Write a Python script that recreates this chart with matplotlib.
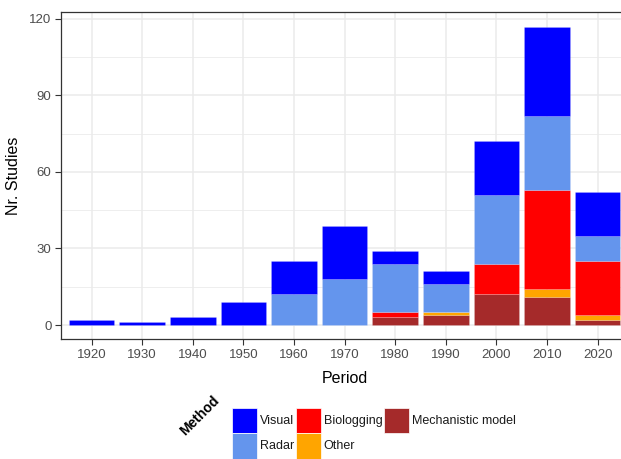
import matplotlib
matplotlib.use("Agg")
import matplotlib.pyplot as plt
from matplotlib.patches import Rectangle
import numpy as np

plt.rcParams['font.family'] = ['Liberation Sans', 'DejaVu Sans']

periods = [1920, 1930, 1940, 1950, 1960, 1970, 1980, 1990, 2000, 2010, 2020]
mechanistic = [0, 0, 0, 0, 0, 0, 3, 4, 12, 11, 2]
other       = [0, 0, 0, 0, 0, 0, 0, 1, 0, 3, 2]
biologging  = [0, 0, 0, 0, 0, 0, 2, 0, 12, 39, 21]
radar       = [0, 0, 0, 0, 12, 18, 19, 11, 27, 29, 10]
visual      = [2, 1, 3, 9, 13, 21, 5, 5, 21, 35, 17]

methods = ["Visual", "Radar", "Biologging", "Other", "Mechanistic model"]
colors = {"Visual": "#0000FF", "Radar": "#6495ED", "Biologging": "#FF0000",
          "Other": "#FFA500", "Mechanistic model": "#A52A2A"}
stack = [("Mechanistic model", mechanistic), ("Other", other),
         ("Biologging", biologging), ("Radar", radar), ("Visual", visual)]

W, H = 621, 459
fig = plt.figure(figsize=(W / 100, H / 100), dpi=100)
left_px, right_px, top_px, bot_px = 61.3, 628.0, 12.0, 339.3
ax = fig.add_axes([left_px / W, 1 - bot_px / H, (right_px - left_px) / W,
                   (bot_px - top_px) / H])

x = np.array(periods)
bottom = np.zeros(len(periods))
for name, vals in stack:
    v = np.array(vals, dtype=float)
    ax.bar(x, v, width=9, bottom=bottom, color=colors[name],
           edgecolor='#FFFFFF40', linewidth=0.4)
    bottom += v

ax.set_xlim(1914, 2026)
ax.set_ylim(-5.6, 122.7)
ax.set_xticks(periods)
ax.set_xticklabels([str(p) for p in periods])
ax.set_yticks([0, 30, 60, 90, 120])
ax.set_yticks([15, 45, 75, 105], minor=True)
ax.grid(True, which='major', color='#EBEBEB', linewidth=1.1)
ax.grid(True, which='minor', axis='y', color='#EBEBEB', linewidth=0.6)
ax.set_axisbelow(True)
for s in ax.spines.values():
    s.set_color('#333333')
    s.set_linewidth(0.9)
ax.tick_params(axis='both', which='major', colors='#333333', labelcolor='#4D4D4D',
               labelsize=9.5, length=4, width=0.8, pad=3)
ax.tick_params(axis='y', which='minor', length=0)
ax.set_xlabel("Period", fontsize=11.5, labelpad=7)
ax.set_ylabel("Nr. Studies", fontsize=11.5, labelpad=6)

# legend (layout in pixels)
key = 25.3
col_x = [232, 296, 384]
row_y = [408, 433.3]
text_dx = 2.5
order = [(0, 0), (0, 1), (1, 0), (1, 1), (2, 0)]
for m, (c, r) in zip(methods, order):
    x0 = col_x[c]
    y0 = row_y[r]
    fig.add_artist(Rectangle((x0 / W, 1 - (y0 + key) / H), key / W, key / H,
                             transform=fig.transFigure, facecolor=colors[m],
                             edgecolor='white', linewidth=0.5))
    fig.text((x0 + key + text_dx) / W, 1 - (y0 + key / 2) / H, m,
             fontsize=9, ha='left', va='center', color='#1A1A1A')
fig.text(199.5 / W, 1 - 416 / H, "Method", rotation=45, fontsize=10,
         fontweight='bold', ha='center', va='center', rotation_mode='anchor')

fig.savefig("out.png", dpi=100)
